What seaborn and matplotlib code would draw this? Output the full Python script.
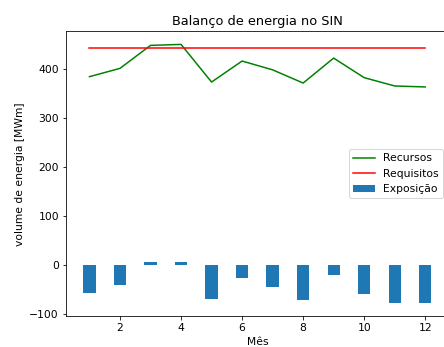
import numpy as np
import seaborn as sns
import matplotlib
matplotlib.use("Agg")
import matplotlib.pyplot as plt

# dados
meses = [1, 2, 3, 4, 5, 6, 7, 8, 9, 10, 11, 12]
recursos = [385, 402, 449, 451, 374, 417, 399, 372, 423, 383, 366, 364]
requisitos = [444, 444, 444, 444, 444, 444, 444, 444, 444, 444, 444, 444]
exposicao = [-58, -42, 5, 7, -70, -26, -45, -72, -20, -59, -78, -78]

plt.rcParams["font.size"] = 10.7

fig = plt.figure(figsize=(444 / 72, 347 / 72), dpi=72)
# o original esta cortado a direita, por isso o eixo passa da borda
ax = fig.add_axes([0.1486, 0.0893, 0.862, 0.820])

sns.lineplot(x=meses, y=recursos, color="green", label="Recursos", ax=ax)
sns.lineplot(x=meses, y=requisitos, color="red", label="Requisitos", ax=ax)
sns.barplot(x=meses, y=exposicao, native_scale=True, width=0.4,
            color="#1f77b4", saturation=1, label="Exposição", ax=ax)

ax.set_title("Balanço de energia no SIN")
ax.set_xlabel("Mês")
ax.set_ylabel("volume de energia [MWm]")
ax.legend(loc="center right")

fig.savefig("out.png", dpi=72)
